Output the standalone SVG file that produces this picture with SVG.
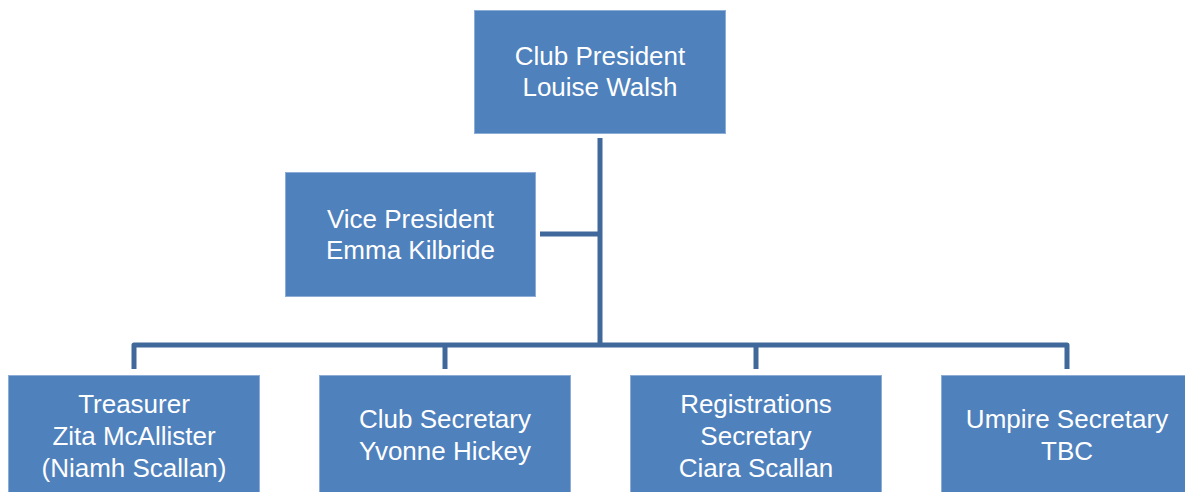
<svg xmlns="http://www.w3.org/2000/svg" width="1185" height="492" viewBox="0 0 1185 492">
<style>
.box{fill:#4F81BD;stroke:#8EADD6;stroke-width:1}
.lbl{font-family:"Liberation Sans",Arial,sans-serif;font-size:26px;fill:#FFFFFF;text-anchor:middle}
.conn{fill:none;stroke:#41689A;stroke-width:5;stroke-linejoin:round}
</style>
<rect width="1185" height="492" fill="#FFFFFF"/>
<g id="connectors">
<path class="conn" d="M600,138 V345"/>
<path class="conn" d="M540,234 H600"/>
<path class="conn" d="M134,369 V345 H1067 V369"/>
<path class="conn" d="M445,345 V369"/>
<path class="conn" d="M756,345 V369"/>
</g>
<g id="president">
<rect class="box" x="474.5" y="10.5" width="251" height="123"/>
<text class="lbl" x="600" y="65">Club President</text>
<text class="lbl" x="600" y="96">Louise Walsh</text>
</g>
<g id="vice-president">
<rect class="box" x="285.5" y="172.5" width="250" height="124"/>
<text class="lbl" x="410.5" y="228">Vice President</text>
<text class="lbl" x="410.5" y="259">Emma Kilbride</text>
</g>
<g id="treasurer">
<rect class="box" x="8.5" y="375.5" width="251" height="124"/>
<text class="lbl" x="134" y="413">Treasurer</text>
<text class="lbl" x="134" y="445">Zita McAllister</text>
<text class="lbl" x="134" y="477">(Niamh Scallan)</text>
</g>
<g id="club-secretary">
<rect class="box" x="319.5" y="375.5" width="251" height="124"/>
<text class="lbl" x="445" y="428">Club Secretary</text>
<text class="lbl" x="445" y="460">Yvonne Hickey</text>
</g>
<g id="registrations-secretary">
<rect class="box" x="630.5" y="375.5" width="251" height="124"/>
<text class="lbl" x="756" y="413">Registrations</text>
<text class="lbl" x="756" y="445">Secretary</text>
<text class="lbl" x="756" y="477">Ciara Scallan</text>
</g>
<g id="umpire-secretary">
<rect class="box" x="941.5" y="375.5" width="251" height="124"/>
<text class="lbl" x="1067" y="428">Umpire Secretary</text>
<text class="lbl" x="1067" y="460">TBC</text>
</g>
</svg>
